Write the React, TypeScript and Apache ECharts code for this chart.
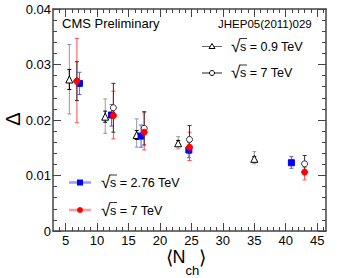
import React, { useEffect, useRef } from "react";
import * as echarts from "echarts";

// sqrt(s) = 0.9 TeV (open triangles)
const x09 = [5.6, 11.3, 16.3, 22.9, 35.0];
const y09 = [0.0273, 0.0206, 0.0173, 0.0158, 0.013];
const hi09 = [0.0336, 0.0238, 0.0202, 0.017, 0.0143];
const lo09 = [0.0211, 0.0176, 0.0151, 0.0148, 0.0121];
const stat09 = [0.0018, 0.001, 0.0008, 0.0005, 0.0004];

// sqrt(s) = 7 TeV (open circles, JHEP)
const x7 = [6.8, 12.6, 17.5, 24.7, 43.0];
const y7 = [0.027, 0.0222, 0.0185, 0.0165, 0.0121];
const hi7 = [0.0305, 0.0266, 0.0215, 0.019, 0.0136];
const lo7 = [0.0235, 0.0178, 0.0155, 0.014, 0.0106];

// sqrt(s) = 2.76 TeV (blue squares)
const x276 = [7.2, 12.3, 17.0, 24.6, 40.9];
const y276 = [0.0266, 0.0209, 0.0171, 0.0146, 0.0123];
const hi276 = [0.0286, 0.0228, 0.0191, 0.016, 0.0134];
const lo276 = [0.0246, 0.0189, 0.0151, 0.0132, 0.0113];

// sqrt(s) = 7 TeV (red circles)
const x7r = [6.8, 12.6, 17.5, 24.7, 43.0];
const y7r = [0.027, 0.0208, 0.0178, 0.0151, 0.0106];
const hi7r = [0.0347, 0.0252, 0.0213, 0.0178, 0.0115];
const lo7r = [0.0195, 0.0166, 0.0146, 0.0127, 0.0092];

const xMajor = [5, 10, 15, 20, 25, 30, 35, 40, 45];
const xMinor = [4, 6, 7, 8, 9, 11, 12, 13, 14, 16, 17, 18, 19, 21, 22, 23, 24, 26, 27, 28, 29, 31, 32, 33, 34, 36, 37, 38, 39, 41, 42, 43, 44, 46];

const FONT = "'Liberation Sans', Arial, Helvetica, sans-serif";
const AX = "#444";

function errSeries(xs: number[], lo: number[], hi: number[], color: string, z: number, cap = 2) {
  return {
    type: "custom",
    xAxisIndex: 0,
    yAxisIndex: 0,
    z,
    data: xs.map((x, i) => [x, lo[i], hi[i]]),
    encode: { x: 0, y: [1, 2] },
    renderItem: (params: any, api: any) => {
      const x = api.value(0);
      const p1 = api.coord([x, api.value(1)]);
      const p2 = api.coord([x, api.value(2)]);
      const st = { stroke: color, lineWidth: 1 };
      return {
        type: "group",
        children: [
          { type: "line", shape: { x1: p1[0], y1: p1[1], x2: p2[0], y2: p2[1] }, style: st },
          { type: "line", shape: { x1: p1[0] - cap, y1: p1[1], x2: p1[0] + cap, y2: p1[1] }, style: st },
          { type: "line", shape: { x1: p2[0] - cap, y1: p2[1], x2: p2[0] + cap, y2: p2[1] }, style: st },
        ],
      };
    },
  };
}

function markSeries(xs: number[], ys: number[], symbol: string, size: number, fill: string, border: string, z: number) {
  return {
    type: "scatter",
    xAxisIndex: 0,
    yAxisIndex: 0,
    z,
    symbol,
    symbolSize: size,
    data: xs.map((x, i) => [x, ys[i]]),
    itemStyle: { color: fill, borderColor: border, borderWidth: 1, opacity: 1 },
  };
}

function sqrtLabel(x: number, y: number, rest: string) {
  return [
    { type: "text", x, y: y - 0.5, style: { text: "√", fontSize: 17, fontFamily: FONT, fill: "#000", verticalAlign: "middle" } },
    { type: "line", shape: { x1: x + 8.5, y1: y - 8, x2: x + 16, y2: y - 8 }, style: { stroke: "#000", lineWidth: 0.8 } },
    { type: "text", x: x + 9, y, style: { text: rest, fontSize: 12.5, fontFamily: FONT, fill: "#000", verticalAlign: "middle" } },
  ];
}

export default function App() {
  const ref = useRef<HTMLDivElement>(null);
  useEffect(() => {
    if (!ref.current) return;
    const chart = echarts.init(ref.current, undefined, { renderer: "svg" });
    const xBase = { type: "value", min: 3, max: 46.4, gridIndex: 0 };
    const option: any = {
      animation: false,
      backgroundColor: "#fff",
      textStyle: { fontFamily: FONT },
      grid: { left: 53, right: 15, top: 9, bottom: 47, containLabel: false },
      xAxis: [
        {
          ...xBase,
          position: "bottom",
          axisLine: { show: true, lineStyle: { color: AX, width: 1.5 } },
          axisTick: { show: true, inside: true, length: 8, customValues: xMajor, lineStyle: { color: AX } },
          axisLabel: { show: true, customValues: xMajor, color: "#000", fontSize: 13, fontFamily: FONT, margin: 3 },
          splitLine: { show: false },
        },
        {
          ...xBase,
          position: "bottom",
          axisLine: { show: false },
          axisTick: { show: true, inside: true, length: 4, customValues: xMinor, lineStyle: { color: AX } },
          axisLabel: { show: false },
          splitLine: { show: false },
        },
        {
          ...xBase,
          position: "top",
          axisLine: { show: true, lineStyle: { color: AX, width: 1.5 } },
          axisTick: { show: true, inside: true, length: 8, customValues: xMajor, lineStyle: { color: AX } },
          axisLabel: { show: false },
          splitLine: { show: false },
        },
        {
          ...xBase,
          position: "top",
          axisLine: { show: false },
          axisTick: { show: true, inside: true, length: 4, customValues: xMinor, lineStyle: { color: AX } },
          axisLabel: { show: false },
          splitLine: { show: false },
        },
      ],
      yAxis: [
        {
          type: "value",
          min: 0,
          max: 0.04,
          interval: 0.01,
          position: "left",
          axisLine: { show: true, lineStyle: { color: AX, width: 1.5 } },
          axisTick: { show: true, inside: true, length: 8, lineStyle: { color: AX } },
          minorTick: { show: true, splitNumber: 5, length: 4, lineStyle: { color: AX } },
          axisLabel: { color: "#000", fontSize: 13, fontFamily: FONT, margin: 2 },
          splitLine: { show: false },
        },
        {
          type: "value",
          min: 0,
          max: 0.04,
          interval: 0.01,
          position: "right",
          axisLine: { show: true, lineStyle: { color: AX, width: 1.5 } },
          axisTick: { show: true, inside: true, length: 8, lineStyle: { color: AX } },
          minorTick: { show: true, splitNumber: 5, length: 4, lineStyle: { color: AX } },
          axisLabel: { show: false },
          splitLine: { show: false },
        },
      ],
      series: [
        errSeries(x09, lo09, hi09, "#999", 2),
        errSeries(x09, y09.map((v, i) => v - stat09[i]), y09.map((v, i) => v + stat09[i]), "#000", 3),
        markSeries(x09, y09, "triangle", 7, "#fff", "#000", 4),
        errSeries(x276, lo276, hi276, "#5a5aff", 5),
        markSeries(x276, y276, "rect", 6, "#0000ff", "#0000ff", 6),
        errSeries(x7r, lo7r, hi7r, "#ff4a4a", 7),
        errSeries(x7, lo7, hi7, "#333", 8),
        markSeries(x7, y7, "circle", 6, "#fff", "#333", 9),
        markSeries(x7r, y7r, "circle", 6, "#ff0000", "#ff0000", 10),
      ],
      graphic: [
        { type: "text", x: 62, y: 23, style: { text: "CMS Preliminary", fontSize: 13, fontFamily: FONT, fill: "#000", verticalAlign: "middle" } },
        { type: "text", x: 218, y: 24, style: { text: "JHEP05(2011)029", fontSize: 11.5, fontFamily: FONT, fill: "#000", verticalAlign: "middle" } },
        // legend 0.9 TeV
        { type: "line", shape: { x1: 202, y1: 46.5, x2: 222, y2: 46.5 }, style: { stroke: "#666", lineWidth: 1 } },
        { type: "polygon", shape: { points: [[212, 43.5], [215, 48.5], [209, 48.5]] }, style: { fill: "#fff", stroke: "#000", lineWidth: 1 } },
        ...sqrtLabel(231, 46.5, "s = 0.9 TeV"),
        // legend 7 TeV black
        { type: "line", shape: { x1: 202, y1: 73, x2: 222, y2: 73 }, style: { stroke: "#222", lineWidth: 1 } },
        { type: "circle", shape: { cx: 212, cy: 73, r: 2.5 }, style: { fill: "#fff", stroke: "#000", lineWidth: 1 } },
        ...sqrtLabel(231, 73, "s = 7 TeV"),
        // legend 2.76 TeV blue
        { type: "line", shape: { x1: 69, y1: 182.5, x2: 91, y2: 182.5 }, style: { stroke: "#9a9aff", lineWidth: 2.5 } },
        { type: "rect", shape: { x: 77, y: 179.5, width: 6, height: 6 }, style: { fill: "#0000ff" } },
        ...sqrtLabel(101, 183, "s = 2.76 TeV"),
        // legend 7 TeV red
        { type: "line", shape: { x1: 69, y1: 210, x2: 91, y2: 210 }, style: { stroke: "#ff9a9a", lineWidth: 2.5 } },
        { type: "circle", shape: { cx: 80, cy: 210, r: 3 }, style: { fill: "#ff0000" } },
        ...sqrtLabel(101, 210.5, "s = 7 TeV"),
        // axis titles
        { type: "text", x: 13, y: 119, rotation: Math.PI / 2, style: { text: "Δ", fontSize: 20, fontFamily: FONT, fill: "#000", align: "center", verticalAlign: "middle" } },
        { type: "text", x: 166, y: 257, style: { text: "⟨", fontSize: 19, fontFamily: FONT, fill: "#000", verticalAlign: "middle" } },
        { type: "text", x: 172.5, y: 256.5, style: { text: "N", fontSize: 18, fontFamily: FONT, fill: "#000", verticalAlign: "middle" } },
        { type: "text", x: 185.5, y: 270, style: { text: "ch", fontSize: 13, fontFamily: FONT, fill: "#000", verticalAlign: "middle" } },
        { type: "text", x: 198.5, y: 257, style: { text: "⟩", fontSize: 19, fontFamily: FONT, fill: "#000", verticalAlign: "middle" } },
      ],
    };
    chart.setOption(option);
    return () => chart.dispose();
  }, []);
  return <div ref={ref} style={{ position: "fixed", left: 0, top: 0, width: 341, height: 278 }} />;
}
